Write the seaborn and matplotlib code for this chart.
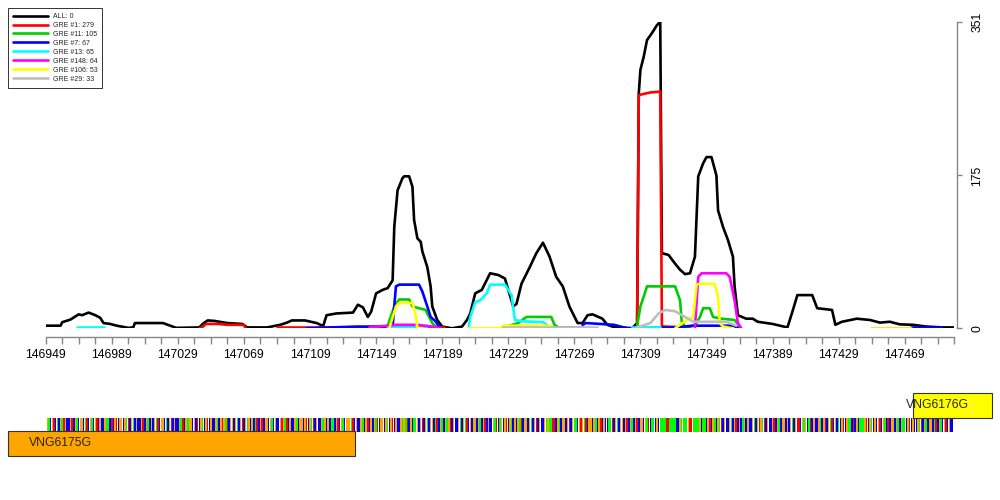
import matplotlib
matplotlib.use("Agg")
import matplotlib.pyplot as plt
from matplotlib.lines import Line2D
from matplotlib.patches import Rectangle
import numpy as np
import pandas as pd
import seaborn as sns

NAN = np.nan

# ---- read coverage (genome position -> count) ----
TOTAL_POS = [146949, 146958, 146959, 146964, 146969, 146971, 146975, 146979, 146982, 146984,
             146988, 146992, 146999, 147002, 147003, 147020, 147028, 147042, 147044, 147047,
             147051, 147059, 147068, 147071, 147083, 147091, 147095, 147098, 147106, 147113,
             147117, 147119, 147125, 147135, 147138, 147141, 147144, 147146, 147149, 147153,
             147156, 147159, 147160, 147162, 147165, 147166, 147169, 147171, 147172, 147174,
             147176, 147177, 147180, 147182, 147183, 147186, 147189, 147195, 147201, 147204,
             147206, 147209, 147213, 147218, 147223, 147227, 147229, 147232, 147234, 147237,
             147242, 147246, 147250, 147254, 147258, 147262, 147266, 147271, 147274, 147277,
             147280, 147286, 147289, 147292, 147304, 147307, 147308, 147309, 147311, 147313,
             147316, 147319, 147321, 147322, 147326, 147330, 147333, 147336, 147339, 147342,
             147344, 147347, 147349, 147352, 147355, 147356, 147359, 147362, 147365, 147366,
             147368, 147373, 147377, 147380, 147389, 147398, 147401, 147404, 147413, 147416,
             147425, 147427, 147431, 147440, 147448, 147454, 147460, 147466, 147474, 147482,
             147492, 147499]
TOTAL_VAL = [3, 3, 7, 10, 16, 15, 18, 15, 12, 6,
             5, 3, 0.5, 1, 6, 6, 0.5, 1, 5, 9,
             8.5, 6, 5, 1, 1, 4, 6.5, 9, 9, 6,
             2.6, 15, 17, 18, 27, 24, 13, 19, 40, 44,
             46, 55, 116, 158, 172, 174, 174, 162, 124, 103,
             99, 88, 70, 48, 25, 9.5, 2, 0, 2, 9.5,
             17, 40, 44, 63, 61, 57, 44, 25, 28, 51,
             70, 86, 98, 82, 59, 48, 25, 6, 6, 15,
             16, 11, 4, 2, 0, 6, 269, 296, 311, 330,
             338, 347, 351, 86, 84, 74, 67, 62, 63, 82,
             174, 189, 196, 196, 175, 135, 116, 101, 82, 48,
             15, 11, 11, 7.5, 5, 1, 19, 38, 38, 23,
             21, 4, 7.5, 11, 9.5, 6.5, 7.5, 4.5, 4, 2,
             1, 1]

RED_POS = [147042, 147043, 147046, 147053, 147059, 147069, 147070, NAN,
           147089, 147107, 147137, 147160, 147190, NAN,
           147306, 147307, 147308, 147315, 147321, 147322, 147323, 147339]
RED_VAL = [0, 0, 5, 5, 4, 4, 0, NAN,
           1, 1, 1, 1, 1, NAN,
           1, 1, 267, 270, 271, 3, 2, 1]

GREEN_POS = [147156, 147160, 147163, 147169, 147171, 147179, 147180, 147183, 147185, NAN,
             147226, 147235, 147240, 147255, 147257, 147260, NAN,
             147307, 147309, 147313, 147321, 147330, 147333, 147334, 147336, 147342, 147345,
             147347, 147351, 147353, 147358, 147366, 147370, NAN,
             147449, 147473]
GREEN_VAL = [3, 25, 33, 33, 25, 21, 17, 6, 2, NAN,
             1, 6, 13, 13, 4, 0, NAN,
             3, 25, 48, 48, 48, 32, 7.5, 2, 3, 13,
             23, 23, 13, 11, 9.5, 0, NAN,
             0, 0]

BLUE_POS = [147107, 147137, 147159, 147161, 147163, 147175, 147177, 147180, 147182, 147185,
            147187, 147188, NAN,
            147274, 147276, 147293, 147297, 147301, 147330, 147341, 147365, 147369, NAN,
            147473, 147491]
BLUE_VAL = [0, 2, 2, 48, 50, 50, 42, 25, 13, 8,
            2, 0, NAN,
            4, 6, 4, 2, 0, 1, 3, 3, 0, NAN,
            1, 1]

CYAN_POS = [146968, 146984, NAN, 147156, 147160, 147174, 147180, NAN,
            147205, 147206, 147209, 147212, 147216, 147218, 147227, 147231, 147233, 147238,
            147250, 147254, NAN, 147304, 147321]
CYAN_VAL = [1, 1, NAN, 1, 1, 1, 0, NAN,
            0, 13, 30, 32, 40, 50, 50, 38, 9.5, 8,
            7, 2, NAN, 2, 2]

MAGENTA_POS = [147145, 147161, 147174, 147183, 147188, NAN, 147227, 147260, 147274, NAN,
               147342, 147344, 147346, 147349, 147361, 147363, 147366, 147368, 147370]
MAGENTA_VAL = [1, 4, 4, 2, 0, NAN, 1, 1, 1, NAN,
               1, 59, 63, 63, 63, 59, 32, 6, 0]

YELLOW_POS = [147157, 147161, 147163, 147171, 147173, 147174, 147177, NAN,
              147205, 147224, 147226, 147254, 147257, NAN,
              147330, 147337, 147341, 147343, 147345, 147354, 147356, 147357, 147359, 147365, NAN,
              147449, 147473]
YELLOW_VAL = [0, 25, 29, 29, 15, 0, 0, NAN,
              0, 0, 3, 3, 0, NAN,
              0, 9.5, 13, 50, 51, 51, 36, 6, 2, 0, NAN,
              0, 0]

GRAY_POS = [147226, 147283, NAN, 147307, 147315, 147320, 147324, 147330, 147336, 147341,
            147351, 147361, 147367]
GRAY_VAL = [2, 2, NAN, 1, 6, 17, 21, 19.5, 13, 7.5,
            7.5, 7.5, 3]

SERIES = ["ALL: 0", "GRE #1: 279", "GRE #11: 105", "GRE #7: 67", "GRE #13: 65",
          "GRE #148: 64", "GRE #106: 53", "GRE #29: 33"]
SERIES_POS = [TOTAL_POS, RED_POS, GREEN_POS, BLUE_POS, CYAN_POS, MAGENTA_POS, YELLOW_POS, GRAY_POS]
SERIES_VAL = [TOTAL_VAL, RED_VAL, GREEN_VAL, BLUE_VAL, CYAN_VAL, MAGENTA_VAL, YELLOW_VAL, GRAY_VAL]
COLORS = ["#000000", "#FF0000", "#00CD00", "#0000FF", "#00FFFF", "#FF00FF", "#FFFF00", "#BEBEBE"]

X_START, X_END = 146949, 147499
X_LABEL_STEP, X_MINOR_STEP = 40, 10
Y_TICKS = [0, 175, 351]

# ---- sequence and genes ----
SEQ_START = 146949
SEQUENCE = """
CGACGTCACG ATGCCGTCGA CGGCATCGAC GTCGCCGAAC TCGTCGGCGA
TCGACGCCGT CGACGCGATC GGCACGTCGC CGATCGAGGC GCTCGACGTC
GCCGACGTGA TCGGCGACGT CGAGCGCATC GTCGGCGACG CCGTGATCGC
CGACGGCGTC GATCGCCGAG CGCAACGTCG ACGGGATCGC CGACGTCGCG
ATCGGCGACG TCGCCGAGAT CGCAAGCGTC GACGGCATCG ACGAGTCGCC
GACGATCGCG GCGACGTCGC CGATCAGCGT CGACGCGATC GGCGACGTCG
CCGAGAATTC GACGGCGTCG AACGTGATCG GCGACGTCGC CAATCGACGG
CGTCGACGTC GGCGATCAAC GCAAAATTAA AACCGAAAAG TTAAAAGCAA
CGTCGACGAT CGCCGACGTC GCAGCGCCGA CGTGATCGCC GTCGACGGCG
CGACGTTCGA GCATCGCCGA CGTCGATCGC ACGTCGAACT CGCAAAGTCG
ACGCGTCGAC TCGGCGACGA ACGTCGCCGA TCGACGGCAT CGACGTCGCC T
"""
BASE_COLORS = {"A": "#00FF00", "C": "#0000FF", "G": "#FFA500", "T": "#FF0000"}

GENE_NAMES = ["VNG6175G", "VNG6176G"]
GENE_START = [146926, 147474]
GENE_END = [147136, 147522]
GENE_STRAND = ["-", "+"]
GENE_COLORS = ["#FFA500", "#FFFF00"]
GENE_LABEL_X = [146939, 147470]


def build_frame() -> pd.DataFrame:
    frames = []
    for label, pos, val in zip(SERIES, SERIES_POS, SERIES_VAL):
        v = np.asarray(val, dtype=float)
        frames.append(pd.DataFrame({"pos": np.asarray(pos, dtype=float), "reads": v,
                                    "seg": np.cumsum(np.isnan(v)), "series": label}))
    return pd.concat(frames, ignore_index=True).dropna()


def main() -> None:
    sns.set_style("white")
    plt.rcParams["font.family"] = ["Liberation Sans", "DejaVu Sans"]

    fig = plt.figure(figsize=(10, 5), dpi=100)
    ax = fig.add_axes([0.0457, 0.3434, 0.9086, 0.6132])

    df = build_frame()
    sns.lineplot(data=df, x="pos", y="reads", hue="series", units="seg", estimator=None,
                 sort=False, hue_order=SERIES, palette=dict(zip(SERIES, COLORS)),
                 linewidth=1.9, legend=False, ax=ax)

    ax.set_xlim(X_START, X_END)
    ax.set_ylim(0, max(Y_TICKS))
    ax.set_xlabel("")
    ax.set_ylabel("")
    ax.grid(False)
    for side in ("left", "top"):
        ax.spines[side].set_visible(False)
    for side in ("bottom", "right"):
        ax.spines[side].set_color("#888888")
        ax.spines[side].set_linewidth(1.0)
    ax.spines["bottom"].set_position(("outward", 6.3))
    ax.spines["bottom"].set_bounds(X_START, X_END)
    ax.spines["right"].set_position(("outward", 1.7))
    ax.spines["right"].set_bounds(0, max(Y_TICKS))

    majors = list(range(X_START, X_END - X_MINOR_STEP * 2, X_LABEL_STEP))
    ax.set_xticks(majors)
    ax.set_xticklabels([str(m) for m in majors])
    ax.set_xticks(list(range(X_START, X_END + 1, X_MINOR_STEP)), minor=True)
    ax.tick_params(axis="x", which="both", bottom=True, length=5, width=1.0,
                   color="#888888", labelcolor="black", direction="out",
                   labelsize=8.8, pad=3.4)

    ax.yaxis.tick_right()
    ax.set_yticks(Y_TICKS)
    ax.set_yticklabels([str(t) for t in Y_TICKS], rotation=90, va="center")
    ax.tick_params(axis="y", right=True, left=False, labelright=True, labelleft=False,
                   length=3.6, width=1.0, color="#888888", labelcolor="black",
                   direction="out", labelsize=8.8, pad=7.0)

    handles = [Line2D([], [], color=c, linewidth=1.9) for c in COLORS]
    leg = fig.legend(handles, SERIES, loc="upper left", bbox_to_anchor=(0.008, 0.984),
                     borderaxespad=0, fontsize=5.0, handlelength=5.0, handletextpad=0.72,
                     labelspacing=0.28, borderpad=0.72, frameon=True, fancybox=False)
    leg.get_frame().set_edgecolor("black")
    leg.get_frame().set_linewidth(0.7)

    # bottom track: sequence strip + genes
    gx = fig.add_axes([0.0457, 0.08, 0.9086, 0.15])
    gx.set_xlim(X_START, X_END)
    gx.set_ylim(0, 75)
    gx.axis("off")

    seq = "".join(SEQUENCE.split())
    positions = np.arange(SEQ_START, SEQ_START + len(seq))
    gx.bar(positions, 14, bottom=28.5, width=0.9,
           color=[BASE_COLORS[b] for b in seq], linewidth=0)

    for name, start, end, strand, color, lx in zip(GENE_NAMES, GENE_START, GENE_END,
                                                   GENE_STRAND, GENE_COLORS, GENE_LABEL_X):
        y0 = 4 if strand == "-" else 42
        gx.add_patch(Rectangle((start, y0), end - start, 25, facecolor=color,
                               edgecolor="#333333", linewidth=0.8, clip_on=False))
        gx.text(lx, y0 + 12.5, name, ha="left", va="center", fontsize=8.8, clip_on=False)

    fig.savefig("out.png", dpi=100)
    plt.close(fig)


if __name__ == "__main__":
    main()
